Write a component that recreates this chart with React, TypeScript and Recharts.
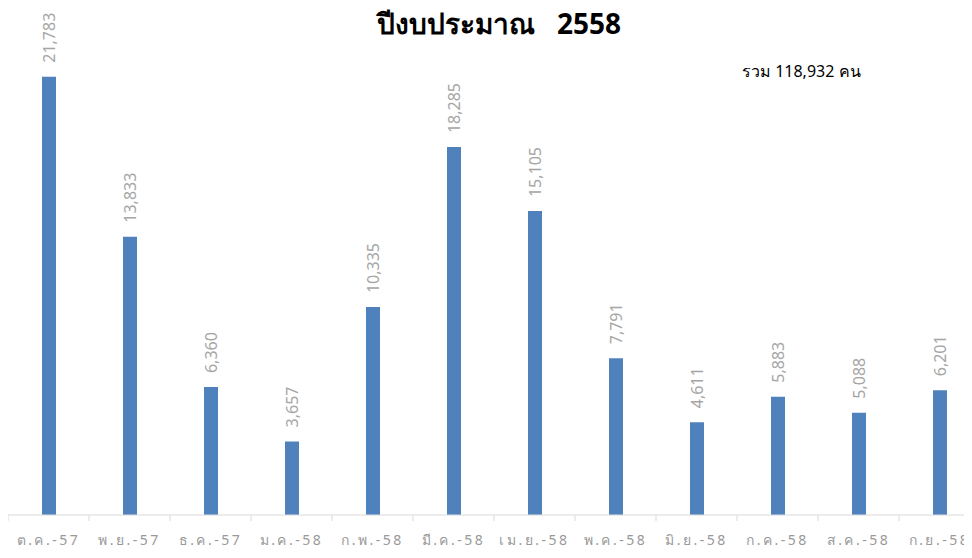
import React from 'react';
import { Bar, BarChart, XAxis, YAxis, LabelList } from 'recharts';

const months = [
  'ต.ค.-57', 'พ.ย.-57', 'ธ.ค.-57', 'ม.ค.-58', 'ก.พ.-58', 'มี.ค.-58',
  'เม.ย.-58', 'พ.ค.-58', 'มิ.ย.-58', 'ก.ค.-58', 'ส.ค.-58', 'ก.ย.-58',
];
const visitors = [21783, 13833, 6360, 3657, 10335, 18285, 15105, 7791, 4611, 5883, 5088, 6201];
const totalText = 'รวม 118,932 คน';
const title = 'ปีงบประมาณ   2558';

const data = months.map((m, i) => ({ month: m, value: visitors[i] }));

const CHART_W = 972;
const BAND = CHART_W / months.length;

const MonthTick = (props: any) => {
  const { x, y, payload, index } = props;
  return (
    <g>
      <line x1={x - BAND / 2} x2={x - BAND / 2} y1={y - 8} y2={y - 2} stroke="#d9d9d9" />
      {index === months.length - 1 && (
        <line x1={x + BAND / 2} x2={x + BAND / 2} y1={y - 8} y2={y - 2} stroke="#d9d9d9" />
      )}
      <text
        x={x}
        y={y + 22}
        textAnchor="middle"
        fill="#999999"
        fontSize={14}
        letterSpacing={2.5}
        fontFamily="Tahoma, 'Noto Sans', sans-serif"
      >
        {payload.value}
      </text>
    </g>
  );
};

const ValueLabel = (props: any) => {
  const { x, y, width, value } = props;
  const cx = x + width / 2;
  const cy = y - 14;
  return (
    <text
      x={cx}
      y={cy}
      transform={`rotate(-90, ${cx}, ${cy})`}
      textAnchor="start"
      dominantBaseline="central"
      fill="#a6a6a6"
      fontSize={16}
      fontFamily="'Noto Sans', sans-serif"
    >
      {Number(value).toLocaleString('en-US')}
    </text>
  );
};

export default function App() {
  return (
    <div style={{ width: 964, height: 550, position: 'relative' }}>
      <div style={{ width: 964, height: 550, overflow: 'hidden' }}>
        <BarChart
          width={CHART_W}
          height={550}
          data={data}
          margin={{ top: 4, right: 0, left: 0, bottom: 0 }}
        >
          <XAxis
            dataKey="month"
            interval={0}
            height={43}
            tickLine={false}
            axisLine={{ stroke: '#d9d9d9' }}
            tick={<MonthTick />}
          />
          <YAxis hide domain={[0, 25000]} />
          <Bar dataKey="value" fill="#4f81bd" barSize={14} isAnimationActive={false}>
            <LabelList dataKey="value" content={<ValueLabel />} />
          </Bar>
        </BarChart>
      </div>
      <div
        style={{
          position: 'absolute',
          left: 491,
          top: 0,
          transform: 'translateX(-50%)',
          fontFamily: "Tahoma, 'Noto Sans', sans-serif",
          fontWeight: 'bold',
          fontSize: 28,
          color: '#000',
          lineHeight: '30px',
          whiteSpace: 'pre',
        }}
      >
        {title}
      </div>
      <div
        style={{
          position: 'absolute',
          left: 734,
          top: 51,
          fontFamily: "'Noto Sans', sans-serif",
          fontSize: 16,
          color: '#000',
          whiteSpace: 'pre',
        }}
      >
        {totalText}
      </div>
    </div>
  );
}
